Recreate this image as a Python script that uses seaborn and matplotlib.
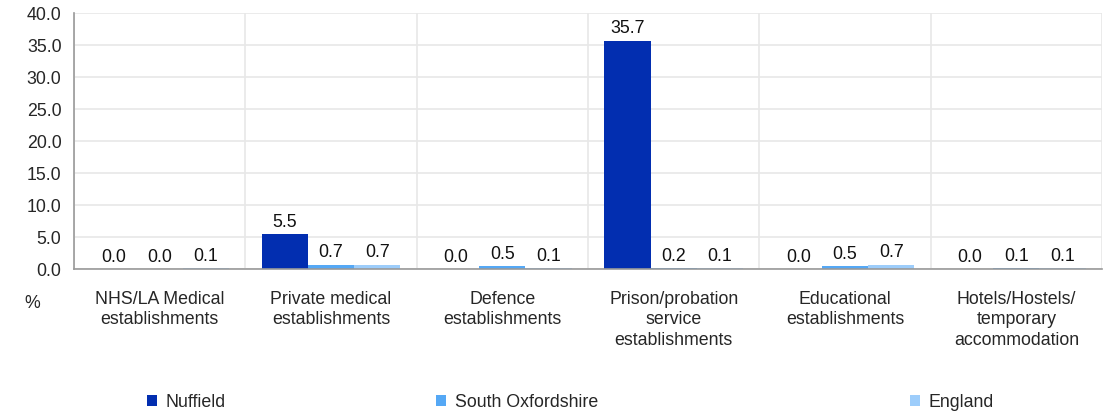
import numpy as np
import pandas as pd
import seaborn as sns
import matplotlib.pyplot as plt
from matplotlib.patches import Patch

CATEGORIES = [
    "NHS/LA Medical\nestablishments",
    "Private medical\nestablishments",
    "Defence\nestablishments",
    "Prison/probation\nservice\nestablishments",
    "Educational\nestablishments",
    "Hotels/Hostels/\ntemporary\naccommodation",
]
SERIES = ["Nuffield", "South Oxfordshire", "England"]
NUFFIELD = [0.0, 5.5, 0.0, 35.7, 0.0, 0.0]
SOUTH_OXON = [0.0, 0.7, 0.5, 0.2, 0.5, 0.1]
ENGLAND = [0.1, 0.7, 0.1, 0.1, 0.7, 0.1]
Y_TICKS = [0, 5, 10, 15, 20, 25, 30, 35, 40]

COLORS = ["#022eb0", "#55a8f5", "#9dcdfb"]
FS = 12.8


def main():
    sns.set_style("white")
    plt.rcParams['font.family'] = ['Liberation Sans', 'DejaVu Sans']
    plt.rcParams['font.size'] = FS

    df = pd.DataFrame({
        "category": CATEGORIES * 3,
        "series": [s for s in SERIES for _ in CATEGORIES],
        "value": NUFFIELD + SOUTH_OXON + ENGLAND,
    })

    fig = plt.figure(figsize=(11.08, 4.14), dpi=100)
    ax = fig.add_axes([74 / 1108, 1 - 270 / 414, (1102 - 74) / 1108, (270 - 14) / 414])

    sns.barplot(data=df, x="category", y="value", hue="series", hue_order=SERIES,
                order=CATEGORIES, palette=COLORS, width=0.81, saturation=1,
                linewidth=0, ax=ax, legend=False, zorder=3)

    for cont in ax.containers:
        ax.bar_label(cont, fmt="%.1f", padding=3, fontsize=FS, color="#111111")

    ax.set_ylim(0, 40)
    ax.set_xlim(-0.5, len(CATEGORIES) - 0.5)
    ax.set_yticks(Y_TICKS)
    ax.set_yticklabels([f"{v:.1f}" for v in Y_TICKS])
    ax.set_xticks(np.arange(-0.5, len(CATEGORIES), 1.0), minor=True)
    ax.tick_params(axis="x", which="major", length=0, pad=15)
    ax.tick_params(axis="x", which="minor", length=5, color="#999999", width=1)
    ax.tick_params(axis="y", length=5, color="#999999", width=1, pad=4)
    for lbl in ax.get_xticklabels():
        lbl.set_linespacing(1.28)
        lbl.set_verticalalignment("top")

    ax.grid(axis="y", which="major", color="#e8e8e8", linewidth=1.2, zorder=0)
    ax.grid(axis="x", which="minor", color="#e8e8e8", linewidth=1.2, zorder=0)
    ax.set_axisbelow(True)
    for side in ["top", "right"]:
        ax.spines[side].set_visible(False)
    for side in ["left", "bottom"]:
        ax.spines[side].set_color("#999999")
        ax.spines[side].set_linewidth(1.2)
        ax.spines[side].set_zorder(4)
    ax.set_xlabel("")
    ax.set_ylabel("")

    fig.text(32 / 1108, 1 - 303 / 414, "%", ha="center", va="center", fontsize=FS)

    # legend entries placed where the reference puts them
    xs = [147, 436, 910]
    for name, col, x in zip(SERIES, COLORS, xs):
        fig.legend(handles=[Patch(facecolor=col, edgecolor="none")], labels=[name],
                   loc="center left", bbox_to_anchor=(x / 1108, 1 - 403 / 414),
                   frameon=False, handlelength=0.56, handleheight=0.56,
                   handletextpad=0.5, borderpad=0, borderaxespad=0, fontsize=FS)

    fig.savefig("out.png", dpi=100)


if __name__ == "__main__":
    main()
